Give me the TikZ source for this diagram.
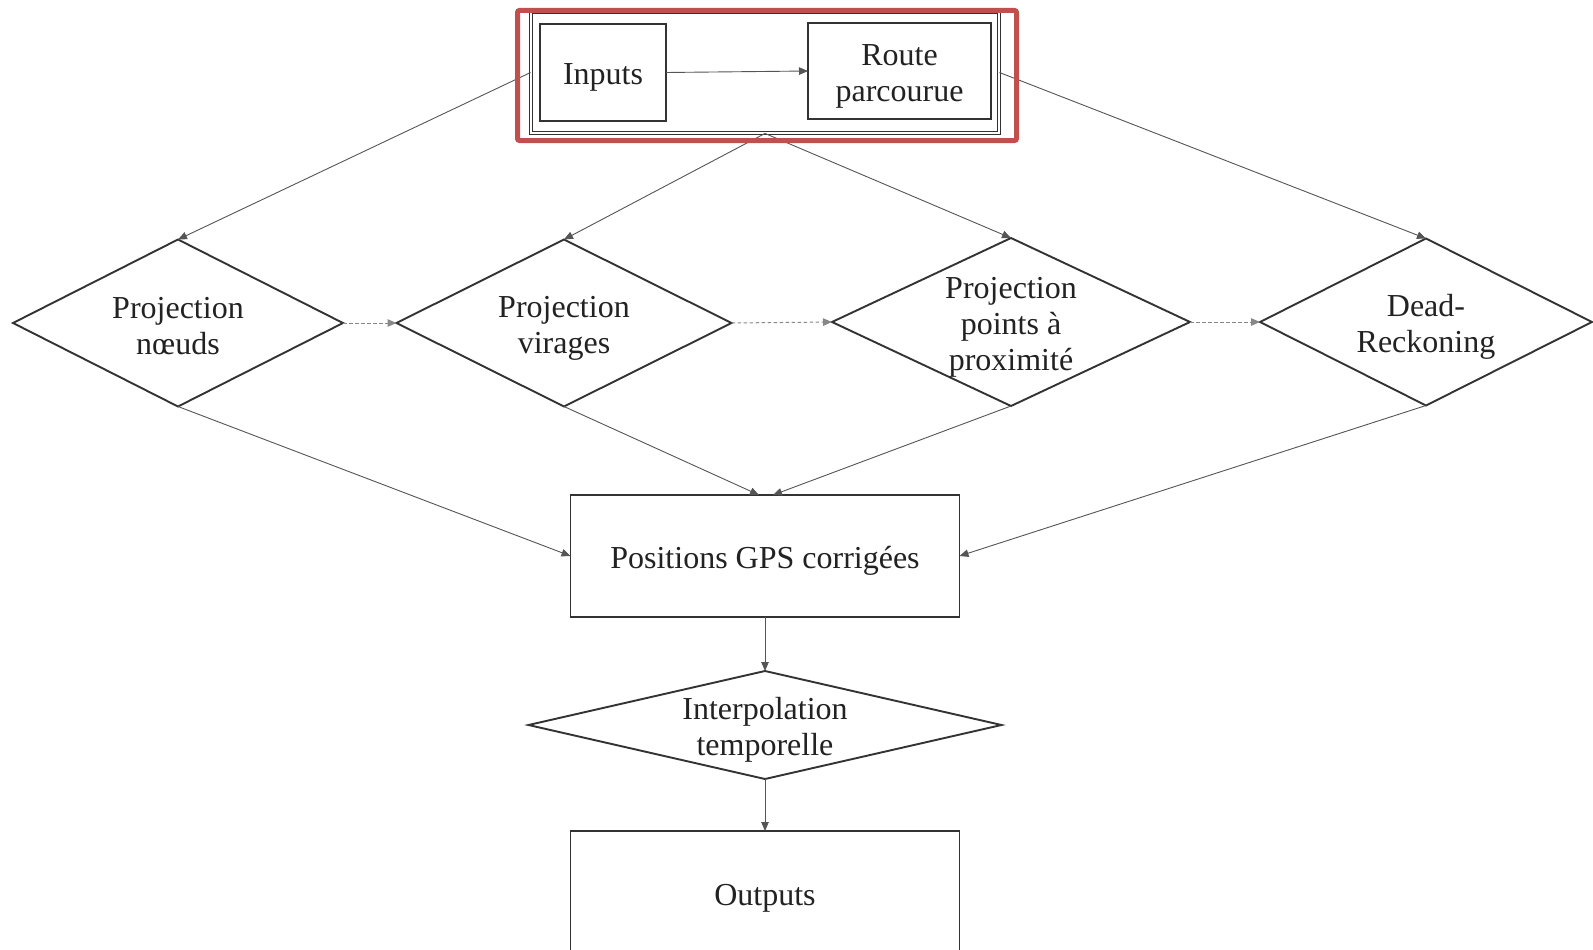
\documentclass[tikz,border=0pt]{standalone}
\usepackage{fontspec}
\setmainfont{Liberation Serif}
\usetikzlibrary{shapes.geometric,arrows.meta}
\definecolor{focusred}{HTML}{C0504D}
\definecolor{ink}{HTML}{222222}
\definecolor{edge}{HTML}{333333}
\definecolor{wire}{HTML}{555555}
\definecolor{hopwire}{HTML}{888888}
\begin{document}
\begin{tikzpicture}[x=1pt,y=-1pt,
  every node/.style={font=\fontsize{32}{36}\selectfont, text=ink},
  box/.style={draw=edge, line width=1.5pt, rectangle, inner sep=0pt, outer sep=0pt},
  choice/.style={draw=edge, line width=1.9pt, diamond, inner sep=0pt, outer sep=0pt},
  caption/.style={align=center, inner sep=0pt, yshift=-5pt},
  link/.style={draw=wire, line width=0.9pt, -{Triangle[length=9pt,width=7.5pt]}},
  hop/.style={draw=hopwire, line width=1pt, dash pattern=on 3.5pt off 2.5pt, -{Triangle[length=9pt,width=7.5pt]}}
]
\clip (0,0) rectangle (1593,950);
\fill[white] (0,0) rectangle (1593,950);

% input group
\node[draw=edge, double=white, double distance=2.5pt, line width=0.9pt, rectangle,
      minimum width=468pt, minimum height=121pt, inner sep=0pt] (group) at (765,72.5) {};
\node[box, minimum width=126pt, minimum height=97pt] (inputs) at (603,72.5) {};
\node[caption] (inputst) at (inputs.center) {Inputs};
\node[box, minimum width=183pt, minimum height=96pt] (route) at (899.5,71) {};
\node[caption] (routet) at (route.center) {Route\\parcourue};

% projection methods
\node[choice, minimum width=330pt, minimum height=167pt] (d1) at (178,323) {};
\node[caption, yshift=2pt] (d1t) at (d1.center) {Projection\\nœuds};
\node[choice, minimum width=335pt, minimum height=167pt] (d2) at (564,323) {};
\node[caption] (d2t) at (d2.center) {Projection\\virages};
\node[choice, minimum width=358pt, minimum height=168pt] (d3) at (1011,322) {};
\node[caption] (d3t) at (d3.center) {Projection\\points à\\proximité};
\node[choice, minimum width=332pt, minimum height=167pt] (d4) at (1426,322) {};
\node[caption] (d4t) at (d4.center) {Dead-\\Reckoning};

% results
\node[box, minimum width=389pt, minimum height=122pt] (pos) at (765,556) {};
\node[caption] (post) at (pos.center) {Positions GPS corrigées};
\node[choice, minimum width=473pt, minimum height=108pt] (interp) at (765,725) {};
\node[caption] (interpt) at (interp.center) {Interpolation\\temporelle};
\node[box, minimum width=389pt, minimum height=124pt] (out) at (765,893) {};
\node[caption] (outt) at (out.center) {Outputs};

% connectors
\draw[link] (inputs.east) -- (route.west);
\draw[link] (group.west) -- (d1.north);
\draw[link] (group.south) -- (d2.north);
\draw[link] (group.south) -- (d3.north);
\draw[link] (group.east) -- (d4.north);

\draw[hop] (d1.east) -- (d2.west);
\draw[hop] (d2.east) -- (d3.west);
\draw[hop] (d3.east) -- (d4.west);

\draw[link] (d1.south) -- (pos.west);
\draw[link] (d2.south) -- ([xshift=-6pt]pos.north);
\draw[link] (d3.south) -- ([xshift=8pt]pos.north);
\draw[link] (d4.south) -- (pos.east);
\draw[link] (pos.south) -- (interp.north);
\draw[link] (interp.south) -- (out.north);

% highlight frame around the inputs
\node[draw=focusred, line width=5pt, rounded corners=2pt, rectangle, inner sep=0pt,
      minimum width=499pt, minimum height=130pt] (focus) at (767,75.5) {};
\end{tikzpicture}
\end{document}
